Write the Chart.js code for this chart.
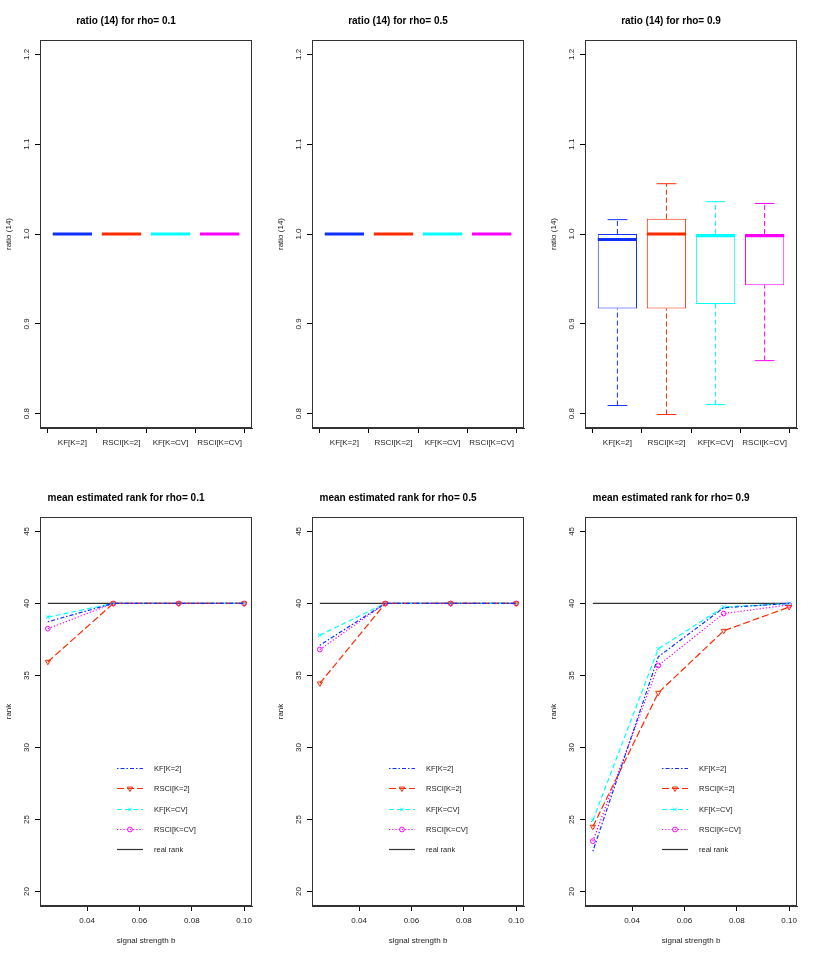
<!DOCTYPE html>
<html lang="en">
<head>
  <meta charset="UTF-8">
  <title>ratio (14) and mean estimated rank</title>
  <script src="https://cdn.jsdelivr.net/npm/chart.js"></script>
  <style>
    body { margin: 0; background: #fff; }
    #wrap { position: relative; width: 817px; height: 956px; background: #fff; }
    canvas { position: absolute; }
  </style>
</head>
<body>
  <div id="wrap">
    <canvas id="box1" width="272" height="478" style="left:0;top:0"></canvas>
    <canvas id="box2" width="272" height="478" style="left:272px;top:0"></canvas>
    <canvas id="box3" width="272" height="478" style="left:545px;top:0"></canvas>
    <canvas id="rank1" width="272" height="478" style="left:0;top:478px"></canvas>
    <canvas id="rank2" width="272" height="478" style="left:272px;top:478px"></canvas>
    <canvas id="rank3" width="272" height="478" style="left:545px;top:478px"></canvas>
  </div>

  <script>
    // methods compared in every panel
    const methods = ['KF[K=2]', 'RSCI[K=2]', 'KF[K=CV]', 'RSCI[K=CV]'];
    const rhoValues = [0.1, 0.5, 0.9];

    // boxplot stats for ratio (14): [lower whisker, Q1, median, Q3, upper whisker]
    const ratioRho01 = [[1, 1, 1, 1, 1], [1, 1, 1, 1, 1], [1, 1, 1, 1, 1], [1, 1, 1, 1, 1]];
    const ratioRho05 = [[1, 1, 1, 1, 1], [1, 1, 1, 1, 1], [1, 1, 1, 1, 1], [1, 1, 1, 1, 1]];
    const ratioRho09 = [
      [0.809, 0.917, 0.994, 1.000, 1.016],
      [0.799, 0.917, 1.000, 1.017, 1.056],
      [0.810, 0.922, 0.998, 1.000, 1.036],
      [0.859, 0.943, 0.998, 1.000, 1.034]
    ];
    const ratioTicks = [0.8, 0.9, 1.0, 1.1, 1.2];

    // mean estimated rank vs signal strength b
    const signalB = [0.025, 0.05, 0.075, 0.1];
    const bTicks = [0.04, 0.06, 0.08, 0.10];
    const rankTicks = [20, 25, 30, 35, 40, 45];
    const realRank = [40, 40, 40, 40];
    const rankRho01 = {
      kf2:    [38.73, 40, 40, 40],
      rsci2:  [35.95, 40, 40, 40],
      kfcv:   [39.05, 40, 40, 40],
      rscicv: [38.25, 40, 40, 40]
    };
    const rankRho05 = {
      kf2:    [37.1, 40, 40, 40],
      rsci2:  [34.45, 40, 40, 40],
      kfcv:   [37.8, 40, 40, 40],
      rscicv: [36.8, 40, 40, 40]
    };
    const rankRho09 = {
      kf2:    [22.8, 36.3, 39.7, 40],
      rsci2:  [24.5, 33.8, 38.1, 39.75],
      kfcv:   [24.95, 36.85, 39.75, 40],
      rscicv: [23.5, 35.7, 39.3, 39.9]
    };

    const colors = ['#1030ff', '#ff2a00', '#00ffff', '#ff00ff'];
    const textColor = '#222';

    Chart.defaults.font.family = '"Liberation Sans", Arial, sans-serif';
    Chart.defaults.color = textColor;

    // R style closed box around the plot region
    const framePlugin = {
      id: 'frame',
      afterDatasetsDraw(chart) {
        const a = chart.chartArea, ctx = chart.ctx;
        ctx.save();
        ctx.strokeStyle = '#333';
        ctx.lineWidth = 1;
        ctx.strokeRect(Math.round(a.left) + 0.5, Math.round(a.top) + 0.5,
          Math.round(a.right - a.left) - 1, Math.round(a.bottom - a.top) - 1);
        ctx.restore();
      }
    };

    // legend drawn inside the plot, line sample + marker + label
    const rankLegend = {
      id: 'rankLegend',
      afterDatasetsDraw(chart) {
        const a = chart.chartArea, ctx = chart.ctx;
        chart.data.datasets.forEach((ds, i) => {
          const y = Math.round(a.top + 251 + i * 20.3) + 0.5;
          const x0 = a.left + 77, x1 = a.left + 103;
          ctx.save();
          ctx.strokeStyle = ds.borderColor;
          ctx.lineWidth = ds.borderWidth;
          ctx.setLineDash(ds.borderDash || []);
          ctx.beginPath();
          ctx.moveTo(x0, y);
          ctx.lineTo(x1, y);
          ctx.stroke();
          ctx.setLineDash([]);
          if (ds.pointRadius > 0 && Chart.helpers && Chart.helpers.drawPoint) {
            ctx.fillStyle = 'rgba(0,0,0,0)';
            ctx.lineWidth = 1;
            Chart.helpers.drawPoint(ctx, {
              pointStyle: ds.pointStyle, radius: ds.pointRadius,
              rotation: ds.pointRotation || 0, borderWidth: 1
            }, (x0 + x1) / 2, y);
          }
          ctx.fillStyle = textColor;
          ctx.font = '7.5px "Liberation Sans", Arial, sans-serif';
          ctx.textBaseline = 'middle';
          ctx.fillText(ds.label, a.left + 114, y);
          ctx.restore();
        });
      }
    };

    function boxHalfWidth(chart) {
      const x = chart.scales.x;
      return Math.abs(x.getPixelForValue(1.4) - x.getPixelForValue(1));
    }

    function boxDatasets(stats) {
      const ds = [];
      // medians
      ds.push({
        type: 'scatter',
        data: stats.map((s, i) => ({ x: i + 1, y: s[2] })),
        pointStyle: 'line',
        pointRadius: ctx => boxHalfWidth(ctx.chart),
        borderColor: colors,
        borderWidth: 3
      });
      // whisker caps
      ds.push({
        type: 'scatter',
        data: stats.flatMap((s, i) => [{ x: i + 1, y: s[0] }, { x: i + 1, y: s[4] }]),
        pointStyle: 'line',
        pointRadius: ctx => boxHalfWidth(ctx.chart) / 2,
        borderColor: ctx => colors[Math.floor(ctx.dataIndex / 2)],
        borderWidth: 1
      });
      // dashed whiskers
      stats.forEach((s, i) => {
        ds.push({
          type: 'line',
          data: [{ x: i + 1, y: s[0] }, { x: i + 1, y: s[1] }, { x: i + 1, y: null },
                 { x: i + 1, y: s[3] }, { x: i + 1, y: s[4] }],
          borderColor: colors[i],
          borderWidth: 1,
          borderDash: [5, 3],
          pointRadius: 0,
          spanGaps: false
        });
      });
      // boxes
      ds.push({
        type: 'bar',
        data: stats.map((s, i) => ({ x: i + 1, y: [s[1], s[3]] })),
        borderColor: colors,
        backgroundColor: '#fff',
        borderWidth: 1,
        borderSkipped: false,
        categoryPercentage: 0.8,
        barPercentage: 1
      });
      return ds;
    }

    function axisCommon() {
      return {
        grid: { display: true, drawOnChartArea: false, drawTicks: true, tickLength: 5, color: '#000' },
        border: { display: true, color: '#333' }
      };
    }

    function boxChart(id, rho, stats) {
      new Chart(document.getElementById(id), {
        type: 'bar',
        data: { datasets: boxDatasets(stats) },
        options: {
          responsive: false,
          devicePixelRatio: 1,
          animation: false,
          events: [],
          layout: { padding: { left: 0, right: 20, top: 0, bottom: 0 } },
          plugins: {
            legend: { display: false },
            tooltip: { enabled: false },
            title: {
              display: true,
              text: 'ratio (14) for rho= ' + rho,
              color: '#000',
              font: { size: 10, weight: 'bold' },
              padding: { top: 15, bottom: 13 }
            }
          },
          scales: {
            x: {
              type: 'linear', min: 0.34, max: 4.66, offset: false,
              ...axisCommon(),
              afterBuildTicks: s => { s.ticks = methods.map((m, i) => ({ value: i + 1 })); },
              afterFit: s => { s.height = 50; },
              ticks: {
                autoSkip: false, maxRotation: 0, minRotation: 0, padding: 5,
                font: { size: 8 },
                callback: v => methods[v - 1]
              }
            },
            y: {
              min: 0.784, max: 1.216,
              ...axisCommon(),
              afterBuildTicks: s => { s.ticks = ratioTicks.map(v => ({ value: v })); },
              afterFit: s => { s.width = 40; },
              title: { display: true, text: 'ratio (14)', font: { size: 8 }, padding: { top: 4, bottom: 0 } },
              ticks: {
                minRotation: 90, maxRotation: 90, crossAlign: 'center', padding: 2.5,
                font: { size: 8 },
                callback: v => v.toFixed(1)
              }
            }
          }
        },
        plugins: [framePlugin]
      });
    }

    function rankChart(id, rho, ranks) {
      const series = [
        { label: methods[0], values: ranks.kf2, color: colors[0], dash: [1.5, 2, 4, 2], style: 'circle', radius: 0 },
        { label: methods[1], values: ranks.rsci2, color: colors[1], dash: [7, 3], style: 'triangle', radius: 3, rot: 180 },
        { label: methods[2], values: ranks.kfcv, color: colors[2], dash: [5, 3], style: 'crossRot', radius: 2.6 },
        { label: methods[3], values: ranks.rscicv, color: colors[3], dash: [1.2, 2], style: 'circle', radius: 2.4 },
        { label: 'real rank', values: realRank, color: '#333', dash: [], style: 'circle', radius: 0 }
      ];
      new Chart(document.getElementById(id), {
        type: 'line',
        data: {
          datasets: series.map(s => ({
            label: s.label,
            data: signalB.map((b, i) => ({ x: b, y: s.values[i] })),
            borderColor: s.color,
            borderWidth: 1.2,
            borderDash: s.dash,
            pointStyle: s.style,
            pointRadius: s.radius,
            pointRotation: s.rot || 0,
            pointBorderWidth: 1,
            pointBackgroundColor: 'rgba(0,0,0,0)',
            tension: 0
          }))
        },
        options: {
          responsive: false,
          devicePixelRatio: 1,
          animation: false,
          events: [],
          layout: { padding: { left: 0, right: 20, top: 0, bottom: 0 } },
          plugins: {
            legend: { display: false },
            tooltip: { enabled: false },
            title: {
              display: true,
              text: 'mean estimated rank for rho= ' + rho,
              color: '#000',
              font: { size: 10, weight: 'bold' },
              padding: { top: 14, bottom: 13 }
            }
          },
          scales: {
            x: {
              type: 'linear', min: 0.022, max: 0.103,
              ...axisCommon(),
              afterBuildTicks: s => { s.ticks = bTicks.map(v => ({ value: v })); },
              afterFit: s => { s.height = 50; },
              title: { display: true, text: 'signal strength b', font: { size: 8 }, padding: { top: 0, bottom: 10 } },
              ticks: {
                autoSkip: false, maxRotation: 0, minRotation: 0, padding: 5,
                font: { size: 8 },
                callback: v => v.toFixed(2)
              }
            },
            y: {
              min: 19, max: 46,
              ...axisCommon(),
              afterBuildTicks: s => { s.ticks = rankTicks.map(v => ({ value: v })); },
              afterFit: s => { s.width = 40; },
              title: { display: true, text: 'rank', font: { size: 8 }, padding: { top: 4, bottom: 0 } },
              ticks: {
                minRotation: 90, maxRotation: 90, crossAlign: 'center', padding: 4,
                font: { size: 8 },
                callback: v => String(v)
              }
            }
          }
        },
        plugins: [framePlugin, rankLegend]
      });
    }

    boxChart('box1', rhoValues[0], ratioRho01);
    boxChart('box2', rhoValues[1], ratioRho05);
    boxChart('box3', rhoValues[2], ratioRho09);
    rankChart('rank1', rhoValues[0], rankRho01);
    rankChart('rank2', rhoValues[1], rankRho05);
    rankChart('rank3', rhoValues[2], rankRho09);
  </script>
</body>
</html>
